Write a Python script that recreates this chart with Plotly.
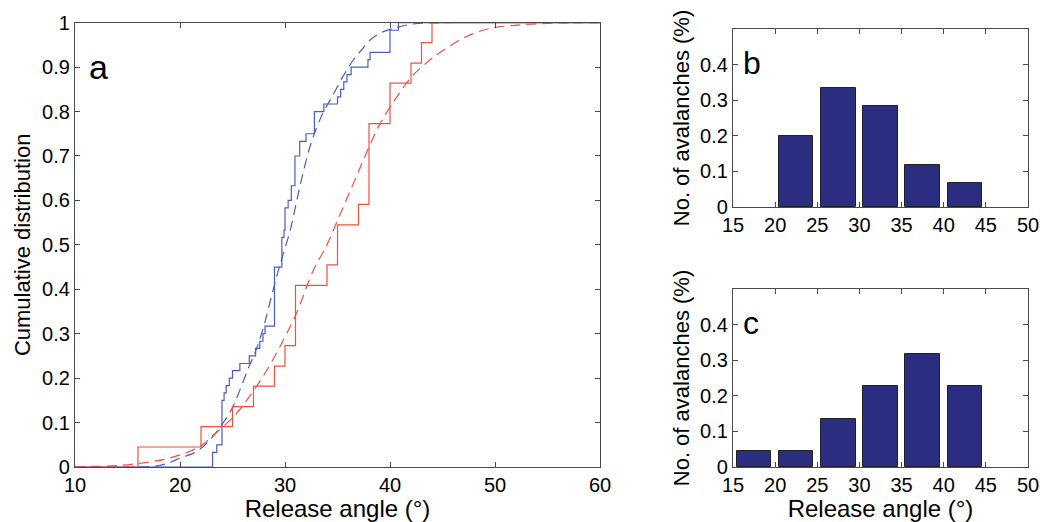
import plotly.graph_objects as go

# ---------------- data ----------------
# Panel a: empirical CDF steps (angle, cumulative fraction after the step)
blue_step_x = [10, 23.1, 23.5, 24.0, 24.2, 24.4, 24.7, 25.0, 25.7, 26.6, 27.2, 27.6, 27.9, 28.1,
               29.0, 29.7, 29.9, 30.0, 30.3, 30.6, 30.95, 31.4, 32.0, 32.8, 33.7, 35.0, 35.3,
               35.6, 35.9, 36.3, 37.9, 38.1, 40.0, 40.8, 60]
blue_step_y = [0, 0.033, 0.050, 0.150, 0.167, 0.183, 0.200, 0.217, 0.233, 0.250, 0.267, 0.283,
               0.300, 0.317, 0.450, 0.517, 0.533, 0.583, 0.600, 0.633, 0.700, 0.733, 0.750,
               0.800, 0.817, 0.833, 0.850, 0.867, 0.883, 0.900, 0.917, 0.933, 0.983, 1.000, 1.000]

red_step_x = [10, 16, 22, 25, 27, 29, 30, 31, 34, 35, 37, 38, 40, 42, 43, 44, 60]
red_step_y = [0, 0.045, 0.091, 0.136, 0.182, 0.227, 0.273, 0.409, 0.455, 0.545, 0.591,
              0.773, 0.864, 0.909, 0.955, 1.000, 1.000]

# Panel a: fitted distributions (dashed)
blue_fit_x = [10, 15, 18, 19.2, 20, 21.6, 23, 24.8, 25.7, 26.5, 27.3, 28.1, 28.4, 29.2, 29.8,
              30.5, 31.0, 31.6, 32.5, 33.6, 34.4, 35.5, 36.5, 37.3, 38.1, 39.0, 40.3, 42.2, 45, 60]
blue_fit_y = [0, 0, 0.003, 0.012, 0.02, 0.035, 0.065, 0.125, 0.173, 0.222, 0.267, 0.327, 0.355,
              0.428, 0.477, 0.533, 0.586, 0.65, 0.73, 0.796, 0.83, 0.878, 0.916, 0.939, 0.961,
              0.976, 0.987, 0.997, 1.0, 1.0]

red_fit_x = [10, 13, 15, 17, 19, 21.9, 23.2, 25.1, 26.5, 27.8, 29.0, 30.0, 31.1, 32.7, 34.0,
             35.0, 36.0, 37.0, 38.0, 39.0, 40.0, 41.0, 42.0, 43.0, 44.0, 45.4, 47.3, 49.5,
             52.4, 55.5, 58, 60]
red_fit_y = [0.001, 0.002, 0.005, 0.011, 0.02, 0.046, 0.072, 0.113, 0.155, 0.2, 0.248, 0.293,
             0.346, 0.443, 0.5, 0.555, 0.61, 0.665, 0.72, 0.77, 0.81, 0.845, 0.877, 0.90,
             0.92, 0.943, 0.969, 0.987, 0.995, 0.999, 1.0, 1.0]

# Panel b and c: histograms (bin centers, fraction)
bins_b = [22.5, 27.5, 32.5, 37.5, 42.5]
values_b = [0.200, 0.333, 0.283, 0.117, 0.067]
bins_c = [17.5, 22.5, 27.5, 32.5, 37.5, 42.5]
values_c = [0.045, 0.045, 0.136, 0.227, 0.318, 0.227]

ticks_a_x = [10, 20, 30, 40, 50, 60]
ticks_a_y = [0, 0.1, 0.2, 0.3, 0.4, 0.5, 0.6, 0.7, 0.8, 0.9, 1]
ticks_a_y_text = ["0", "0.1", "0.2", "0.3", "0.4", "0.5", "0.6", "0.7", "0.8", "0.9", "1"]
ticks_bc_x = [15, 20, 25, 30, 35, 40, 45, 50]
ticks_bc_y = [0, 0.1, 0.2, 0.3, 0.4]
ticks_bc_y_text = ["0", "0.1", "0.2", "0.3", "0.4"]

# ---------------- figure ----------------
BLUE = "#4a5cc4"
RED = "#f0503c"
NAVY = "#2b2e80"
AX = "#4a4a4a"
FONT = "Liberation Sans, Arial, Helvetica, sans-serif"

fig = go.Figure()

fig.add_trace(go.Scatter(x=blue_fit_x, y=blue_fit_y, mode="lines", line_shape="spline",
                         line=dict(color=BLUE, width=1.2, dash="10px,6px"),
                         xaxis="x", yaxis="y", showlegend=False))
fig.add_trace(go.Scatter(x=red_fit_x, y=red_fit_y, mode="lines", line_shape="spline",
                         line=dict(color=RED, width=1.2, dash="10px,6px"),
                         xaxis="x", yaxis="y", showlegend=False))
fig.add_trace(go.Scatter(x=blue_step_x, y=blue_step_y, mode="lines", line_shape="hv",
                         line=dict(color=BLUE, width=1.2),
                         xaxis="x", yaxis="y", showlegend=False))
fig.add_trace(go.Scatter(x=red_step_x, y=red_step_y, mode="lines", line_shape="hv",
                         line=dict(color=RED, width=1.2),
                         xaxis="x", yaxis="y", showlegend=False))

fig.add_trace(go.Bar(x=bins_b, y=values_b, width=4.1, marker=dict(color=NAVY,
                     line=dict(color="#222222", width=1)),
                     xaxis="x2", yaxis="y2", showlegend=False))
fig.add_trace(go.Bar(x=bins_c, y=values_c, width=4.1, marker=dict(color=NAVY,
                     line=dict(color="#222222", width=1)),
                     xaxis="x3", yaxis="y3", showlegend=False))

W, H = 1040, 522


def dx(a, b):
    return [a / W, b / W]


def dy(top, bottom):
    return [(H - bottom) / H, (H - top) / H]


common_axis = dict(showline=True, linecolor=AX, linewidth=1.2, mirror="ticks",
                   ticks="inside", ticklen=5, tickcolor=AX, tickwidth=1.2,
                   showgrid=False, zeroline=False, automargin=False,
                   tickfont=dict(family=FONT, size=20, color="black"))

fig.update_layout(
    width=W, height=H, margin=dict(l=0, r=0, t=0, b=0),
    paper_bgcolor="white", plot_bgcolor="white",
    font=dict(family=FONT, color="black"),
    xaxis=dict(domain=dx(75, 600), range=[10, 60], tickvals=ticks_a_x,
               title=dict(text="Release angle (°)", font=dict(size=24), standoff=2),
               anchor="y", **common_axis),
    yaxis=dict(domain=dy(22.7, 467), range=[0, 1], tickvals=ticks_a_y, ticktext=ticks_a_y_text,
               title=dict(text="Cumulative distribution", font=dict(size=22), standoff=5),
               anchor="x", **common_axis),
    xaxis2=dict(domain=dx(733, 1028), range=[15, 50], tickvals=ticks_bc_x,
                anchor="y2", **common_axis),
    yaxis2=dict(domain=dy(29, 207), range=[0, 0.5], tickvals=ticks_bc_y, ticktext=ticks_bc_y_text,
                title=dict(text="No. of avalanches (%)", font=dict(size=22), standoff=4),
                anchor="x2", **common_axis),
    xaxis3=dict(domain=dx(733, 1028), range=[15, 50], tickvals=ticks_bc_x,
                title=dict(text="Release angle (°)", font=dict(size=24), standoff=2),
                anchor="y3", **common_axis),
    yaxis3=dict(domain=dy(289, 467), range=[0, 0.5], tickvals=ticks_bc_y, ticktext=ticks_bc_y_text,
                title=dict(text="No. of avalanches (%)", font=dict(size=22), standoff=4),
                anchor="x3", **common_axis),
    bargap=0,
)

fig.add_annotation(x=12.2, y=0.9, xref="x", yref="y", text="a", showarrow=False,
                   font=dict(family=FONT, size=34, color="black"), xanchor="center", yanchor="middle")
fig.add_annotation(x=17.25, y=0.405, xref="x2", yref="y2", text="b", showarrow=False,
                   font=dict(family=FONT, size=32, color="black"), xanchor="center", yanchor="middle")
fig.add_annotation(x=17.1, y=0.405, xref="x3", yref="y3", text="c", showarrow=False,
                   font=dict(family=FONT, size=32, color="black"), xanchor="center", yanchor="middle")

fig.write_html("out.html")
